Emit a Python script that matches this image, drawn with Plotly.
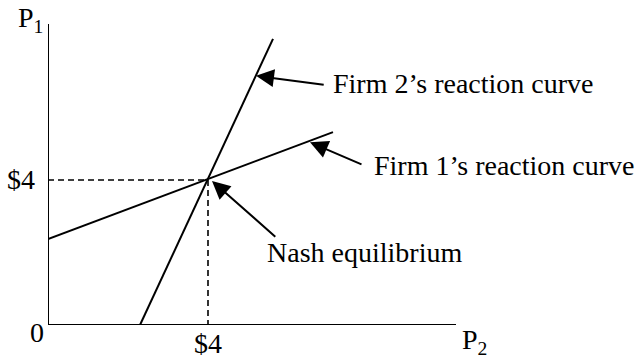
import plotly.graph_objects as go

# ---- data (in $ units) ----
firm1_p2 = [0.0, 7.125]
firm1_p1 = [2.37, 5.32]
firm2_p2 = [2.3, 5.625]
firm2_p1 = [0.0, 7.89]
nash_p2 = 4.0
nash_p1 = 4.0
x_max = 10.2
y_max = 8.3
tick_label = "$4"
origin_label = "0"
x_title = "P<sub>2</sub>"
y_title = "P<sub>1</sub>"

# labels with arrow (text, tip x, tip y, tail x, tail y, text x, text y)
labels = [
    ("Firm 2\u2019s reaction curve", 5.2, 6.87, 6.93, 6.62, 7.08, 6.65),
    ("Firm 1\u2019s reaction curve", 6.55, 5.04, 7.875, 4.41, 8.1, 4.41),
    ("Nash equilibrium", 4.1, 3.97, 5.72, 2.4, 5.42, 1.99),
]

FONT = dict(family="Liberation Serif, Times New Roman, serif", size=28, color="black")


def px(v):
    return v / x_max


def py(v):
    return v / y_max


fig = go.Figure()
fig.add_trace(go.Scatter(x=firm1_p2, y=firm1_p1, mode="lines",
                         line=dict(color="black", width=2), cliponaxis=False, showlegend=False))
fig.add_trace(go.Scatter(x=firm2_p2, y=firm2_p1, mode="lines",
                         line=dict(color="black", width=2), cliponaxis=False, showlegend=False))
# dashed guides
fig.add_trace(go.Scatter(x=[0, nash_p2, nash_p2], y=[nash_p1, nash_p1, 0], mode="lines",
                         line=dict(color="black", width=1.6, dash="6px,4px"),
                         cliponaxis=False, showlegend=False))
# axes
fig.add_trace(go.Scatter(x=[0, 0, x_max], y=[y_max, 0, 0], mode="lines",
                         line=dict(color="black", width=2), cliponaxis=False, showlegend=False))

ann = []
for text, tx, ty, ax, ay, lx, ly in labels:
    ann.append(dict(x=tx, y=ty, ax=ax, ay=ay, xref="x", yref="y", axref="x", ayref="y",
                    text="", showarrow=True, arrowhead=2, arrowsize=1.8, arrowwidth=2,
                    arrowcolor="black", standoff=0))
    ann.append(dict(x=px(lx), y=py(ly), xref="paper", yref="paper", text=text, showarrow=False,
                    xanchor="left", yanchor="middle", font=FONT))

ann += [
    dict(x=px(-0.275), y=py(nash_p1), text=tick_label, xanchor="right"),
    dict(x=px(nash_p2), y=py(-0.52), text=tick_label, xanchor="center"),
    dict(x=px(-0.275), y=py(-0.22), text=origin_label, xanchor="center"),
    dict(x=px(10.3), y=py(-0.45), text=x_title, xanchor="left"),
    dict(x=px(-0.8), y=py(8.42), text=y_title, xanchor="left"),
]
for a in ann[-5:]:
    a.update(xref="paper", yref="paper", showarrow=False, yanchor="middle", font=FONT)

fig.update_layout(
    width=642, height=358,
    margin=dict(l=48, r=186, t=24, b=33, autoexpand=False),
    plot_bgcolor="white", paper_bgcolor="white",
    xaxis=dict(range=[0, x_max], visible=False, fixedrange=True),
    yaxis=dict(range=[0, y_max], visible=False, fixedrange=True),
    annotations=ann,
    showlegend=False,
)
# remove the default 8px page margin so the figure fills the window exactly
fig.write_html("out.html",
               config={"displayModeBar": False, "staticPlot": True},
               post_script="document.body.style.margin='0';document.body.style.overflow='hidden';")
